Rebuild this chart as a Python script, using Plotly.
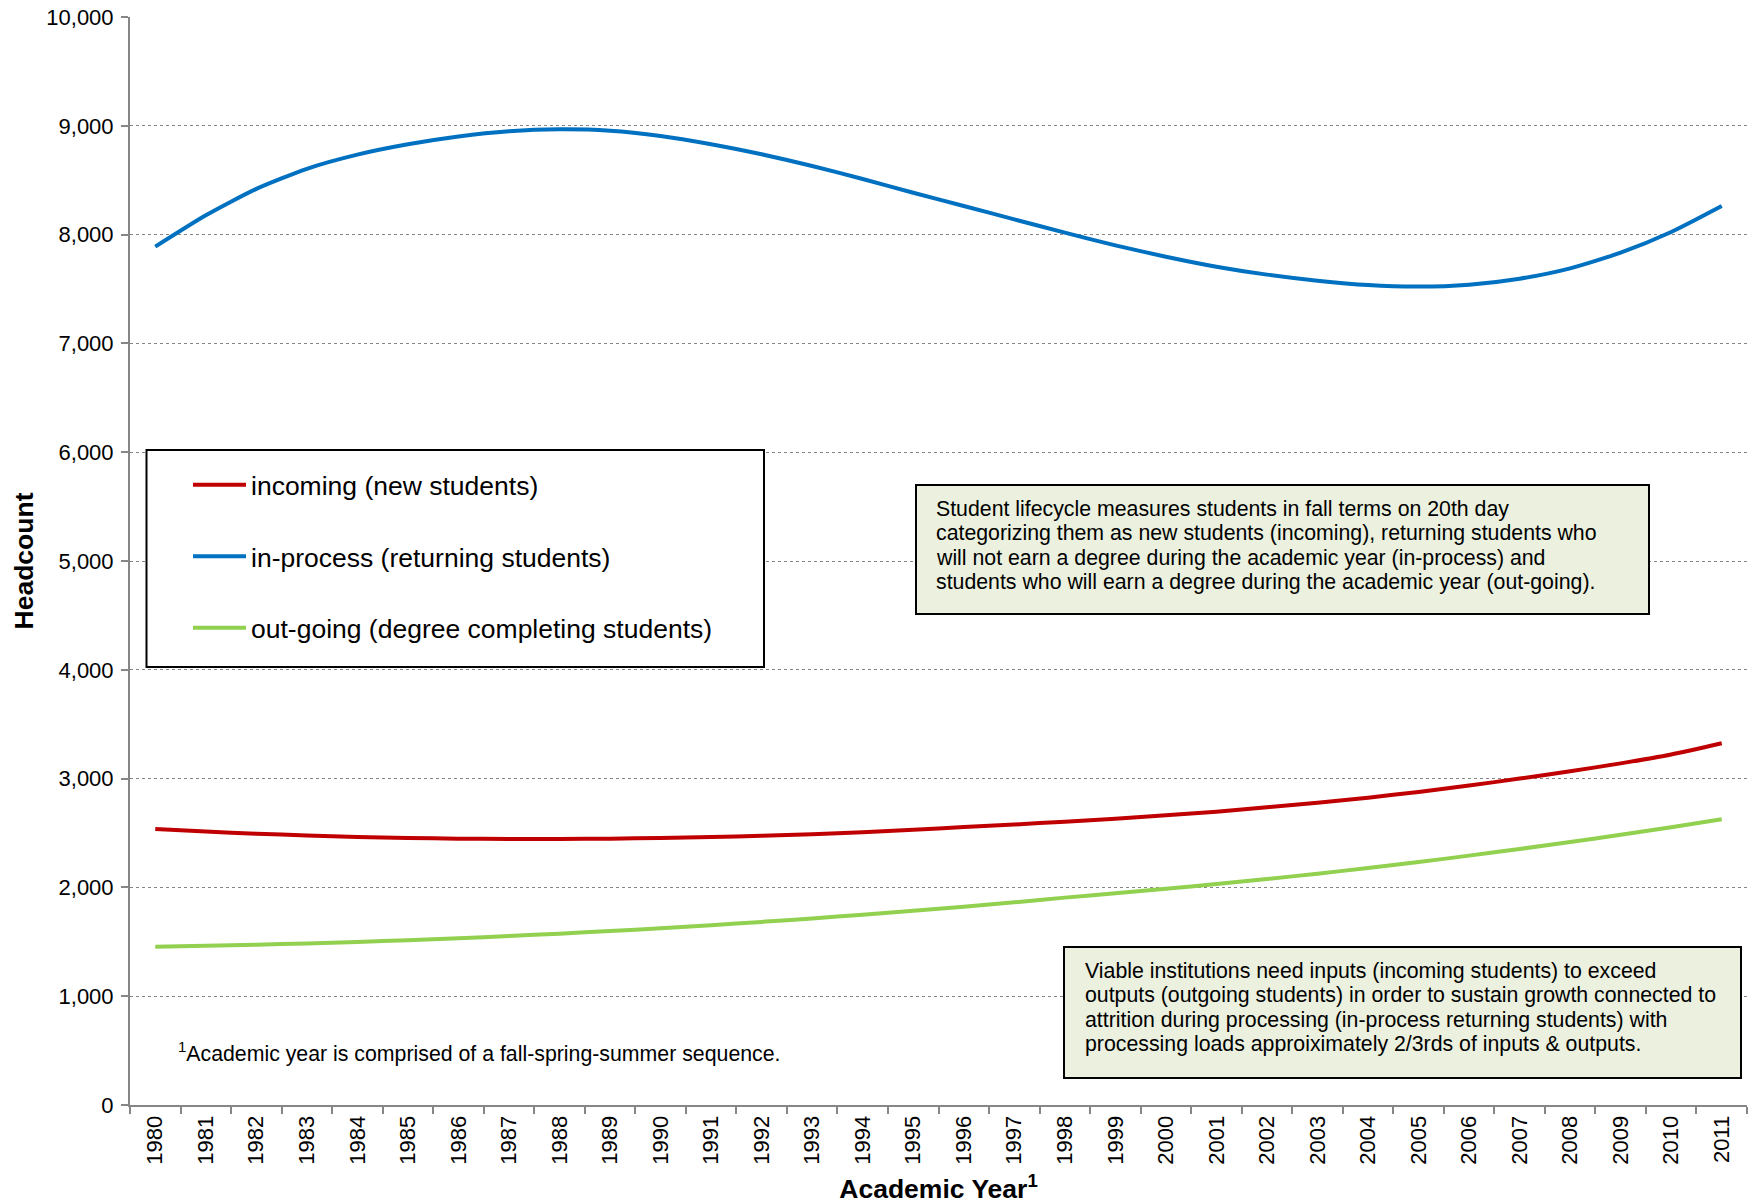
import plotly.graph_objects as go

# ---------------- data ----------------
years = ["1980", "1981", "1982", "1983", "1984", "1985", "1986", "1987",
         "1988", "1989", "1990", "1991", "1992", "1993", "1994", "1995",
         "1996", "1997", "1998", "1999", "2000", "2001", "2002", "2003",
         "2004", "2005", "2006", "2007", "2008", "2009", "2010", "2011"]

incoming = [2537, 2513, 2494, 2477, 2464, 2454, 2448, 2445,
            2445, 2448, 2454, 2463, 2475, 2489, 2508, 2530,
            2554, 2578, 2604, 2632, 2662, 2696, 2736, 2779,
            2825, 2877, 2936, 3000, 3067, 3140, 3222, 3325]

in_process = [7889, 8177, 8420, 8605, 8735, 8830, 8902, 8950,
              8968, 8955, 8906, 8830, 8738, 8631, 8511, 8385,
              8263, 8140, 8018, 7901, 7797, 7705, 7632, 7576,
              7536, 7522, 7540, 7595, 7690, 7834, 8024, 8263]

out_going = [1455, 1463, 1473, 1485, 1499, 1515, 1533, 1553,
             1575, 1599, 1625, 1653, 1683, 1715, 1749, 1785,
             1823, 1863, 1906, 1947, 1988, 2031, 2077, 2126,
             2178, 2233, 2292, 2353, 2417, 2484, 2553, 2627]

series_names = ["incoming (new students)",
                "in-process (returning students)",
                "out-going (degree completing students)"]
series_colors = ["#C00000", "#0070C0", "#92D050"]

y_tick_vals = [0, 1000, 2000, 3000, 4000, 5000, 6000, 7000, 8000, 9000, 10000]

note_top_lines = [
    "Student lifecycle measures students in fall terms on 20th day",
    "categorizing them as new students (incoming), returning students who",
    "will not earn a degree during the academic year (in-process) and",
    "students who will earn a degree during the academic year (out-going).",
]
note_bottom_lines = [
    "Viable institutions need inputs (incoming students) to exceed",
    "outputs (outgoing students) in order to sustain growth connected to",
    "attrition during processing (in-process returning students) with",
    "processing loads approiximately 2/3rds of inputs &amp; outputs.",
]
footnote = "<sup>1</sup>Academic year is comprised of a fall-spring-summer sequence."

# ---------------- figure ----------------
FONT = "Arial, 'Liberation Sans', sans-serif"
W, H = 1754, 1204
L, R, T, B = 130, 7, 17, 99
pw, ph = W - L - R, H - T - B


def px(x):
    return (x - L) / pw


def py(y):
    return (H - B - y) / ph


fig = go.Figure()
for name, vals, col in zip(series_names, [incoming, in_process, out_going], series_colors):
    fig.add_trace(go.Scatter(
        x=years, y=vals, name=name, mode="lines",
        line=dict(color=col, width=4, shape="spline", smoothing=0.6),
        legendgroup=name,
    ))

axis_col = "#868686"
fig.update_layout(
    width=W, height=H,
    margin=dict(l=L, r=R, t=T, b=B, pad=0),
    paper_bgcolor="white", plot_bgcolor="white",
    font=dict(family=FONT, color="black", size=21),
    showlegend=True,
    legend=dict(
        x=px(188), y=py(461), xanchor="left", yanchor="top",
        bgcolor="rgba(0,0,0,0)", borderwidth=0,
        font=dict(size=26.5, family=FONT, color="black"),
        tracegroupgap=34, itemwidth=53,
    ),
    xaxis=dict(
        type="category", range=[-0.5, 31.5],
        tickson="boundaries", ticks="outside", ticklen=7, tickcolor=axis_col, tickwidth=2,
        tickangle=-90, tickfont=dict(size=22, family=FONT, color="black"),
        showline=True, linecolor=axis_col, linewidth=2,
        showgrid=False, zeroline=False,
        title=dict(text="<b>Academic Year<sup>1</sup></b>", font=dict(size=26.5, family=FONT, color="black"),
                   standoff=17),
        automargin=False,
    ),
    yaxis=dict(
        range=[0, 10000], tickvals=y_tick_vals, tickformat=",",
        ticks="outside", ticklen=7, tickcolor=axis_col, tickwidth=2,
        tickfont=dict(size=22, family=FONT, color="black"),
        ticklabelstandoff=3,
        showline=True, linecolor=axis_col, linewidth=2,
        showgrid=True, gridcolor=axis_col, gridwidth=1, griddash="dot",
        zeroline=False,
        title=dict(text="<b>Headcount</b>", font=dict(size=26.5, family=FONT, color="black"),
                   standoff=5),
        automargin=False,
    ),
)

# legend frame (opaque, covers the gridlines like the reference; legend itself draws on top)
fig.add_shape(type="rect", xref="paper", yref="paper",
              x0=px(146.5), x1=px(764), y0=py(667), y1=py(450),
              line=dict(color="black", width=2), fillcolor="white", layer="above")

# note boxes
fig.add_shape(type="rect", xref="paper", yref="paper",
              x0=px(916), x1=px(1649), y0=py(614), y1=py(485),
              line=dict(color="black", width=2), fillcolor="#EBF1DE", layer="above")
fig.add_shape(type="rect", xref="paper", yref="paper",
              x0=px(1064), x1=px(1741), y0=py(1078), y1=py(947),
              line=dict(color="black", width=2), fillcolor="#EBF1DE", layer="above")

note_font = dict(size=21.3, family=FONT, color="black")
for k, line_txt in enumerate(note_top_lines):
    fig.add_annotation(xref="paper", yref="paper", x=px(934), y=py(509 + 24.3 * k),
                       xanchor="left", yanchor="middle", align="left", showarrow=False,
                       text=line_txt, font=note_font)
for k, line_txt in enumerate(note_bottom_lines):
    fig.add_annotation(xref="paper", yref="paper", x=px(1083), y=py(971 + 24.3 * k),
                       xanchor="left", yanchor="middle", align="left", showarrow=False,
                       text=line_txt, font=note_font)
fig.add_annotation(xref="paper", yref="paper", x=px(176), y=py(1052),
                   xanchor="left", yanchor="middle", align="left", showarrow=False,
                   text=footnote, font=note_font)

fig.write_html("out.html", config={"displayModeBar": False},
               post_script="document.body.style.margin='0px';")
